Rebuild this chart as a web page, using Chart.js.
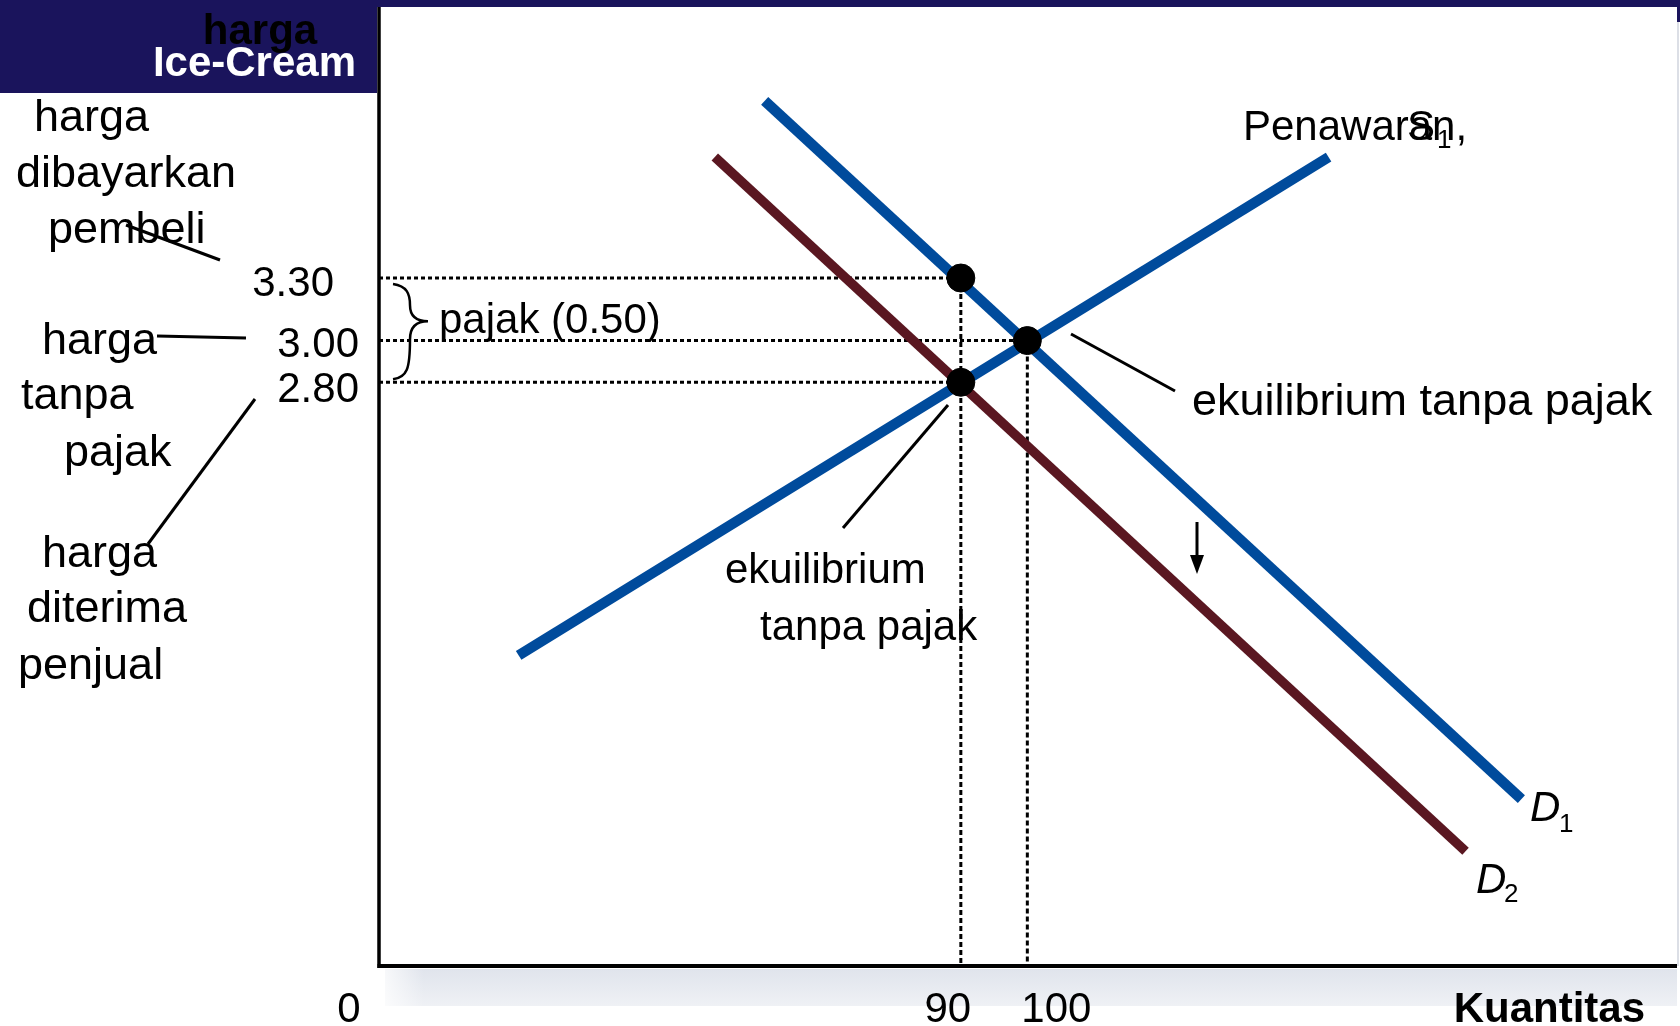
<!DOCTYPE html>
<html>
<head>
<meta charset="utf-8">
<script src="https://cdn.jsdelivr.net/npm/chart.js@4.4.1/dist/chart.umd.min.js"></script>
<style>
body { margin: 0; background: #fff; }
</style>
</head>
<body>
<canvas id="myChart" width="1680" height="1026"></canvas>
<script>
const ctx = document.getElementById('myChart');

// curves (quantity, price) end points
const supplyQ = [23.5, 145.3];
const supplyP = [1.49, 3.88];
const demand1Q = [60.5, 174.3];
const demand1P = [4.15, 0.80];
const demand2Q = [53.0, 165.9];
const demand2P = [3.88, 0.55];

// equilibrium dots
const eqQ = [90, 100, 90];
const eqP = [3.30, 3.00, 2.80];

// tick labels
const priceTicks = [3.30, 3.00, 2.80];
const priceLabels = ['3.30', '3.00', '2.80'];
const qtyTicks = [90, 100];
const qtyLabels = ['90', '100'];

const xMin = 2.5, xMax = 197.7, yMin = 0, yMax = 4.6;

const FONT = "'Liberation Sans', Arial, sans-serif";
const BLUE = '#004b9c';
const MAROON = '#5a1721';
const NAVY = '#1a145c';

function pts(xs, ys) {
    return xs.map((x, i) => ({ x: x, y: ys[i] }));
}

// dotted guides from the axes to each equilibrium dot
function guideSets() {
    let sets = [];
    eqQ.forEach((q, i) => {
        sets.push({ data: [{ x: xMin, y: eqP[i] }, { x: q, y: eqP[i] }], dash: [4, 3] });
    });
    [...new Set(eqQ)].forEach(q => {
        let top = Math.max(...eqP.filter((p, i) => eqQ[i] === q));
        sets.push({ data: [{ x: q, y: top }, { x: q, y: yMin }], dash: [5, 3] });
    });
    return sets.map(s => ({
        data: s.data,
        showLine: true,
        borderColor: '#000',
        borderWidth: 3,
        borderDash: s.dash,
        pointRadius: 0,
        order: 3
    }));
}

function text(c, str, x, y, font, align, color) {
    c.font = font;
    c.textAlign = align || 'left';
    c.textBaseline = 'middle';
    c.fillStyle = color || '#000';
    c.fillText(str, x, y + 3);
}

function seg(c, x1, y1, x2, y2, w) {
    c.beginPath();
    c.lineWidth = w || 3;
    c.strokeStyle = '#000';
    c.moveTo(x1, y1);
    c.lineTo(x2, y2);
    c.stroke();
}

const sketch = {
    id: 'sketch',
    beforeDraw(chart) {
        const c = chart.ctx, a = chart.chartArea;
        c.save();
        c.fillStyle = '#fff';
        c.fillRect(0, 0, chart.width, chart.height);

        // grey shadow under the quantity axis
        let g = c.createLinearGradient(0, a.bottom + 3, 0, a.bottom + 40);
        g.addColorStop(0, '#e0e4ec');
        g.addColorStop(1, '#eff1f5');
        c.fillStyle = g;
        c.fillRect(a.left + 6, a.bottom + 3, a.right - a.left - 6, 37);
        let g2 = c.createLinearGradient(a.left + 6, 0, a.left + 45, 0);
        g2.addColorStop(0, 'rgba(255,255,255,0.75)');
        g2.addColorStop(1, 'rgba(255,255,255,0)');
        c.fillStyle = g2;
        c.fillRect(a.left + 6, a.bottom + 3, 40, 37);

        // header
        c.fillStyle = NAVY;
        c.fillRect(0, 0, chart.width, a.top);
        c.fillRect(0, 0, a.left - 2, 93);
        c.fillRect(a.right, 0, chart.width - a.right, 22);

        // right frame
        c.strokeStyle = '#dcdfe6';
        c.lineWidth = 2;
        c.beginPath();
        c.moveTo(a.right + 1, 22);
        c.lineTo(a.right + 1, a.bottom);
        c.stroke();
        c.restore();
    },
    afterDraw(chart) {
        const c = chart.ctx, a = chart.chartArea;
        const xs = chart.scales.x, ys = chart.scales.y;
        c.save();

        // axes
        seg(c, a.left, a.top, a.left, a.bottom + 2, 3.5);
        seg(c, a.left - 1.5, a.bottom, a.right, a.bottom, 4);

        // header text
        text(c, 'harga', 260, 29, 'bold 42px ' + FONT, 'center', '#000');
        text(c, 'Ice-Cream', 356, 61, 'bold 42px ' + FONT, 'right', '#fff');

        // price tick labels
        const pdx = [-45, -20, -20], pdy = [3, 2, 5];
        priceTicks.forEach((p, i) => {
            text(c, priceLabels[i], a.left + pdx[i], ys.getPixelForValue(p) + pdy[i], '42px ' + FONT, 'right');
        });

        // quantity tick labels
        const qdx = [-13, 29];
        qtyTicks.forEach((q, i) => {
            text(c, qtyLabels[i], xs.getPixelForValue(q) + qdx[i], 1007, '42px ' + FONT, 'center');
        });
        text(c, '0', a.left - 30, 1007, '42px ' + FONT, 'center');
        text(c, 'Kuantitas', 1645, 1007, 'bold 42px ' + FONT, 'right');

        // left side notes
        const f45 = '45px ' + FONT;
        text(c, 'harga', 34, 116, f45);
        text(c, 'dibayarkan', 16, 172, f45);
        text(c, 'pembeli', 48, 228, f45);
        text(c, 'harga', 42, 339, f45);
        text(c, 'tanpa', 21, 394, f45);
        text(c, 'pajak', 64, 451, f45);
        text(c, 'harga', 42, 552, f45);
        text(c, 'diterima', 27, 607, f45);
        text(c, 'penjual', 18, 664, f45);
        seg(c, 126, 225, 220, 260);
        seg(c, 157, 336, 246, 338);
        seg(c, 255, 399, 148, 544);

        // tax brace
        const bt = ys.getPixelForValue(3.30) + 6, bb = ys.getPixelForValue(2.80) - 3;
        const bm = bt + (bb - bt) * 0.39, bx = a.left + 14;
        c.beginPath();
        c.lineWidth = 2.5;
        c.strokeStyle = '#000';
        c.moveTo(bx, bt);
        c.bezierCurveTo(bx + 14, bt + 2, bx + 17, bt + 10, bx + 17, bm - 16);
        c.bezierCurveTo(bx + 17, bm - 5, bx + 24, bm, bx + 35, bm);
        c.moveTo(bx, bb);
        c.bezierCurveTo(bx + 14, bb - 2, bx + 17, bb - 10, bx + 17, bm + 18);
        c.bezierCurveTo(bx + 17, bm + 5, bx + 24, bm, bx + 35, bm);
        c.stroke();
        text(c, 'pajak (0.50)', 439, 318, '42px ' + FONT);

        // equilibrium notes
        text(c, 'ekuilibrium tanpa pajak', 1192, 400, '45px ' + FONT);
        seg(c, 1071, 334, 1175, 391);
        text(c, 'ekuilibrium', 725, 568, '42px ' + FONT);
        text(c, 'tanpa pajak', 760, 625, '42px ' + FONT);
        seg(c, 948, 405, 843, 528);

        // shift arrow
        seg(c, 1197, 522, 1197, 558, 3);
        c.beginPath();
        c.fillStyle = '#000';
        c.moveTo(1190, 555);
        c.lineTo(1204, 555);
        c.lineTo(1197, 574);
        c.closePath();
        c.fill();

        // curve labels
        text(c, 'Penawaran,', 1243, 125, '42px ' + FONT);
        text(c, 'S', 1407, 125, '42px ' + FONT);
        text(c, '1', 1437, 138, '26px ' + FONT);
        text(c, 'D', 1530, 806, 'italic 42px ' + FONT);
        text(c, '1', 1559, 822, '26px ' + FONT);
        text(c, 'D', 1476, 878, 'italic 42px ' + FONT);
        text(c, '2', 1504, 892, '26px ' + FONT);

        c.restore();
    }
};

new Chart(ctx, {
    type: 'scatter',
    data: {
        datasets: [
            {
                label: 'Ekuilibrium',
                data: pts(eqQ, eqP),
                backgroundColor: '#000',
                borderColor: '#000',
                pointRadius: 14,
                order: 0
            },
            {
                label: 'Penawaran S1',
                data: pts(supplyQ, supplyP),
                showLine: true,
                borderColor: BLUE,
                borderWidth: 10.5,
                pointRadius: 0,
                order: 2
            },
            {
                label: 'D1',
                data: pts(demand1Q, demand1P),
                showLine: true,
                borderColor: BLUE,
                borderWidth: 10.5,
                pointRadius: 0,
                order: 1
            },
            {
                label: 'D2',
                data: pts(demand2Q, demand2P),
                showLine: true,
                borderColor: MAROON,
                borderWidth: 9.5,
                pointRadius: 0,
                order: 2
            },
            ...guideSets()
        ]
    },
    options: {
        responsive: false,
        animation: false,
        devicePixelRatio: 1,
        layout: {
            autoPadding: false,
            padding: { left: 379, right: 3, top: 7, bottom: 60 }
        },
        plugins: {
            legend: { display: false },
            tooltip: { enabled: false }
        },
        scales: {
            x: { type: 'linear', min: xMin, max: xMax, display: false },
            y: { type: 'linear', min: yMin, max: yMax, display: false }
        }
    },
    plugins: [sketch]
});
</script>
</body>
</html>
